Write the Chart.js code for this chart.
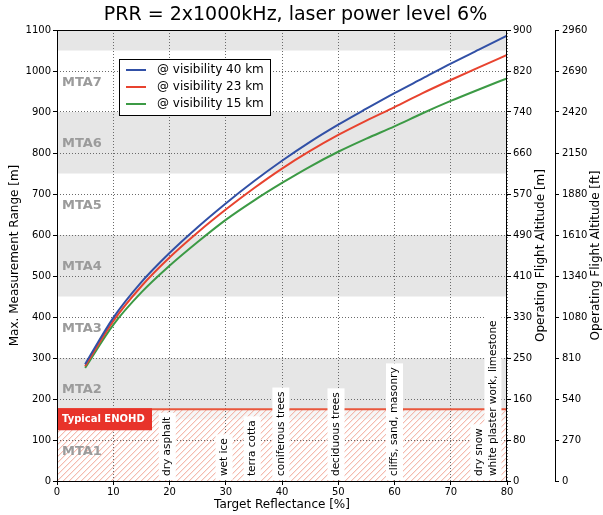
<!DOCTYPE html>
<html>
<head>
<meta charset="utf-8">
<script src="https://cdn.jsdelivr.net/npm/chart.js@4.4.1/dist/chart.umd.min.js"></script>
<style>
  body { margin: 0; background: #fff; }
  canvas { display: block; }
</style>
</head>
<body>
<canvas id="rangeChart" width="603" height="515"></canvas>
<script>
// target reflectance [%]
const reflectance = [5, 10, 15, 20, 25, 30, 35, 40, 45, 50, 55, 60, 65, 70, 75, 80];
// max. measurement range [m] per visibility
const range40km = [285, 398, 485, 556, 619, 677, 731, 781, 827, 869, 908, 946, 982, 1018, 1052, 1086];
const range23km = [280, 390, 475, 545, 606, 662, 714, 762, 805, 844, 879, 912, 946, 978, 1009, 1039];
const range15km = [276, 381, 460, 525, 583, 637, 684, 727, 767, 803, 835, 865, 897, 927, 955, 982];
const seriesNames = ['@ visibility 40 km', '@ visibility 23 km', '@ visibility 15 km'];
const seriesColors = ['#3150a6', '#e8432f', '#3c9a45'];

// flight altitude tick labels, one per 100 m of range
const altitudeMLabels = ['0', '80', '160', '250', '330', '410', '490', '570', '660', '740', '820', '900'];
const altitudeFtLabels = ['0', '270', '540', '810', '1080', '1340', '1610', '1880', '2150', '2420', '2690', '2960'];

// multiple time around zones
const mtaNames = ['MTA1', 'MTA2', 'MTA3', 'MTA4', 'MTA5', 'MTA6', 'MTA7'];
const mtaLower = [0, 150, 300, 450, 600, 750, 900, 1050];
const mtaWidth = 150;

const enohdRange = 175;

const surfaceNames = ['dry asphalt', 'wet ice', 'terra cotta', 'coniferous trees', 'deciduous trees',
  'cliffs, sand, masonry', 'dry snow', 'white plaster work, limestone'];
const surfaceReflect = [19.6, 29.7, 34.7, 39.8, 49.6, 60.0, 75.0, 77.5];

const FONT = 'DejaVu Sans';

function toPoints(ys) {
  return reflectance.map((x, i) => ({ x: x, y: ys[i] }));
}

const backgroundPlugin = {
  id: 'zones',
  beforeDraw(chart) {
    const ctx = chart.ctx;
    const area = chart.chartArea;
    const y = chart.scales.y;
    ctx.save();
    ctx.fillStyle = '#fff';
    ctx.fillRect(0, 0, chart.width, chart.height);
    ctx.beginPath();
    ctx.rect(area.left, area.top, area.right - area.left, area.bottom - area.top);
    ctx.clip();
    // alternate zone shading
    for (let i = 0; i < mtaLower.length; i++) {
      if (i % 2 === 1) {
        const top = y.getPixelForValue(mtaLower[i] + mtaWidth);
        const bot = y.getPixelForValue(mtaLower[i]);
        ctx.fillStyle = '#e6e6e6';
        ctx.fillRect(area.left, top, area.right - area.left, bot - top);
      }
    }
    // hatched eye hazard zone
    const hTop = y.getPixelForValue(enohdRange);
    ctx.fillStyle = 'rgba(255,255,255,0.65)';
    ctx.fillRect(area.left, hTop, area.right - area.left, area.bottom - hTop);
    ctx.beginPath();
    ctx.rect(area.left, hTop, area.right - area.left, area.bottom - hTop);
    ctx.clip();
    const h = area.bottom - hTop;
    ctx.strokeStyle = '#f1a595';
    ctx.lineWidth = 1;
    ctx.beginPath();
    for (let x0 = area.left - h; x0 < area.right; x0 += 6) {
      ctx.moveTo(x0, area.bottom);
      ctx.lineTo(x0 + h, hTop);
    }
    ctx.stroke();
    ctx.restore();
  },
  beforeDatasetsDraw(chart) {
    const ctx = chart.ctx;
    const area = chart.chartArea;
    const y = chart.scales.y;
    ctx.save();
    ctx.font = 'bold 13px ' + FONT;
    ctx.fillStyle = '#9b9b9b';
    ctx.textAlign = 'left';
    ctx.textBaseline = 'middle';
    mtaNames.forEach((name, i) => {
      ctx.fillText(name, area.left + 5, y.getPixelForValue(mtaLower[i] + mtaWidth / 2) + 1);
    });
    ctx.restore();
  },
  afterDatasetsDraw(chart) {
    const ctx = chart.ctx;
    const area = chart.chartArea;
    const x = chart.scales.x;
    const y = chart.scales.y;
    ctx.save();
    // ENOHD limit line and tag
    const hTop = y.getPixelForValue(enohdRange);
    ctx.strokeStyle = '#e9573d';
    ctx.lineWidth = 2;
    ctx.beginPath();
    ctx.moveTo(area.left, hTop);
    ctx.lineTo(area.right, hTop);
    ctx.stroke();
    ctx.fillStyle = '#e8332a';
    ctx.fillRect(area.left, hTop - 1, 95, 22);
    ctx.fillStyle = '#fff';
    ctx.font = 'bold 10px ' + FONT;
    ctx.textBaseline = 'middle';
    ctx.fillText('Typical ENOHD', area.left + 5, hTop + 10);

    // surface reflectance labels
    ctx.font = '10.5px ' + FONT;
    surfaceNames.forEach((name, i) => {
      const px = x.getPixelForValue(surfaceReflect[i]);
      const w = ctx.measureText(name).width;
      const start = area.bottom - 5;
      ctx.fillStyle = '#fff';
      ctx.fillRect(px - 8.5, start - w - 4, 17, w + 8);
      ctx.save();
      ctx.translate(px, start);
      ctx.rotate(-Math.PI / 2);
      ctx.fillStyle = '#000';
      ctx.textAlign = 'left';
      ctx.textBaseline = 'middle';
      ctx.fillText(name, 0, 0);
      ctx.restore();
    });

    // legend box
    const lx = area.left + 62, ly = area.top + 29;
    ctx.fillStyle = '#fff';
    ctx.fillRect(lx, ly, 152, 57);
    ctx.strokeStyle = '#000';
    ctx.lineWidth = 1;
    ctx.strokeRect(lx + 0.5, ly + 0.5, 151, 56);
    ctx.font = '12px ' + FONT;
    ctx.textAlign = 'left';
    ctx.textBaseline = 'middle';
    chart.data.datasets.forEach((ds, i) => {
      const ry = ly + 11 + i * 17;
      ctx.strokeStyle = ds.borderColor;
      ctx.lineWidth = 2;
      ctx.beginPath();
      ctx.moveTo(lx + 7, ry);
      ctx.lineTo(lx + 27, ry);
      ctx.stroke();
      ctx.fillStyle = '#000';
      ctx.fillText(ds.label, lx + 38, ry);
    });

    // frame
    ctx.strokeStyle = '#000';
    ctx.lineWidth = 1;
    ctx.strokeRect(area.left + 0.5, area.top + 0.5, area.right - area.left - 1, area.bottom - area.top);
    ctx.restore();
  },
  afterDraw(chart) {
    const ctx = chart.ctx;
    const area = chart.chartArea;
    const midY = (area.top + area.bottom) / 2;
    ctx.save();
    ctx.fillStyle = '#000';
    ctx.textAlign = 'center';
    ctx.textBaseline = 'middle';
    ctx.font = '19px ' + FONT;
    ctx.fillText('PRR = 2x1000kHz, laser power level 6%', chart.width / 2 - 6, 15);
    ctx.font = '12px ' + FONT;
    [['Operating Flight Altitude [m]', chart.scales.y2.right - 14],
     ['Operating Flight Altitude [ft]', chart.scales.y3.right - 7]].forEach(([txt, px]) => {
      ctx.save();
      ctx.translate(px, midY);
      ctx.rotate(-Math.PI / 2);
      ctx.fillText(txt, 0, 0);
      ctx.restore();
    });
    ctx.restore();
  }
};

const gridStyle = {
  color: '#6a6a6a',
  lineWidth: 1,
  tickLength: 4,
  tickColor: '#000',
  tickBorderDash: []
};

const plainTick = (v) => String(v);

const config = {
  type: 'line',
  data: {
    datasets: [
      { label: seriesNames[0], data: toPoints(range40km), borderColor: seriesColors[0] },
      { label: seriesNames[1], data: toPoints(range23km), borderColor: seriesColors[1] },
      { label: seriesNames[2], data: toPoints(range15km), borderColor: seriesColors[2] }
    ]
  },
  options: {
    responsive: false,
    animation: false,
    layout: { padding: { top: 30, left: 0, right: 0, bottom: 0 } },
    elements: {
      point: { radius: 0 },
      line: { borderWidth: 2, cubicInterpolationMode: 'monotone', fill: false }
    },
    plugins: {
      legend: { display: false },
      title: { display: false },
      tooltip: { enabled: false }
    },
    scales: {
      x: {
        type: 'linear',
        min: 0, max: 80,
        ticks: { stepSize: 10, color: '#000', font: { family: FONT, size: 10 }, padding: 1, maxRotation: 0,
          callback: plainTick },
        grid: gridStyle,
        border: { display: false, dash: [1, 2] },
        title: { display: true, text: 'Target Reflectance [%]', color: '#000',
          font: { family: FONT, size: 12 }, padding: { top: 0, bottom: 3 } },
        afterFit(scale) { scale.height = 34; }
      },
      y: {
        min: 0, max: 1100,
        ticks: { stepSize: 100, color: '#000', font: { family: FONT, size: 10 }, padding: 2,
          callback: plainTick },
        grid: gridStyle,
        border: { display: false, dash: [1, 2] },
        title: { display: true, text: 'Max. Measurement Range [m]', color: '#000',
          font: { family: FONT, size: 12 }, padding: { top: 8, bottom: 0 } },
        afterFit(scale) { scale.width = 57; }
      },
      y2: {
        position: 'right',
        weight: 0,
        min: 0, max: 1100,
        ticks: { stepSize: 100, color: '#000', font: { family: FONT, size: 10 }, padding: 2,
          callback: (v, i) => altitudeMLabels[i] },
        grid: { drawOnChartArea: false, tickLength: 4, tickColor: '#000' },
        border: { display: false },
        afterFit(scale) { scale.width = 48; }
      },
      y3: {
        position: 'right',
        weight: 1,
        min: 0, max: 1100,
        ticks: { stepSize: 100, color: '#000', font: { family: FONT, size: 10 }, padding: 3,
          callback: (v, i) => altitudeFtLabels[i] },
        grid: { drawOnChartArea: false, tickLength: 4, tickColor: '#000' },
        border: { display: true, color: '#000', width: 1 },
        afterFit(scale) { scale.width = 48; }
      }
    }
  },
  plugins: [backgroundPlugin]
};

new Chart(document.getElementById('rangeChart'), config);
</script>
</body>
</html>
